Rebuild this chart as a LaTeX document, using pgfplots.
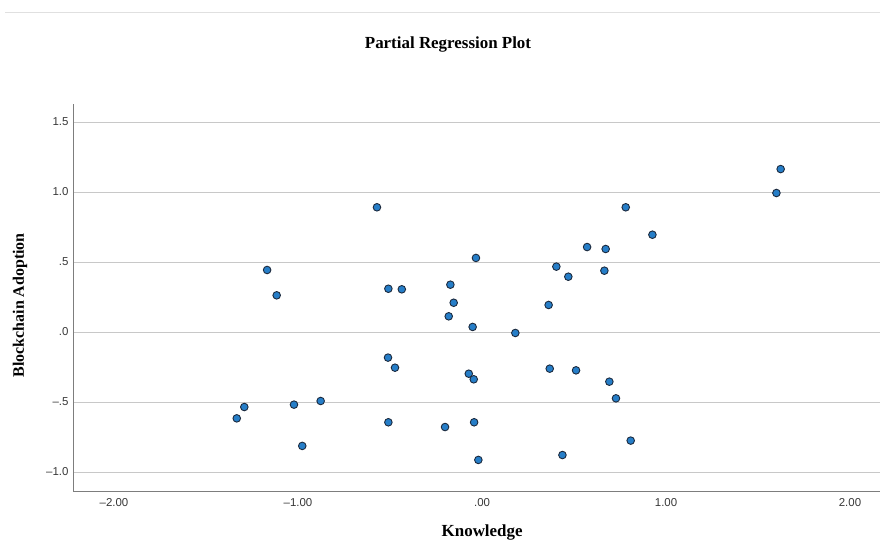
\documentclass[border=0pt]{standalone}
\usepackage{fontspec}
\setmainfont{Liberation Serif}
\newfontfamily\ticksans{Liberation Sans}
\usepackage{pgfplots}
\pgfplotsset{compat=1.18}

\definecolor{dotfill}{RGB}{38,126,200}
\definecolor{dotedge}{RGB}{28,42,62}
\definecolor{gridgray}{RGB}{200,200,200}
\definecolor{axisgray}{RGB}{125,125,125}
\definecolor{ticktext}{RGB}{55,55,55}

\begin{document}
\begin{tikzpicture}[x=1bp,y=1bp]
\useasboundingbox (0,0) rectangle (880,544);
% thin rule along the top of the panel
\draw[color=black!12, line width=0.8bp] (5,532) -- (880,532);
\node[anchor=base, font=\bfseries\fontsize{17}{20}\selectfont] at (448,495.7) {Partial Regression Plot};
\begin{axis}[
  at={(73bp,53bp)}, anchor=south west,
  scale only axis, width=807bp, height=387bp,
  xmin=-2.223, xmax=2.163, ymin=-1.136, ymax=1.629,
  axis x line=bottom, axis y line=left,
  axis line style={-, draw=axisgray, line width=0.9bp},
  major tick length=0pt,
  ymajorgrids, grid style={draw=gridgray, line width=0.9bp},
  xtick={-2,-1,0,1,2},
  xticklabels={–2.00,–1.00,.00,1.00,2.00},
  ytick={-1,-0.5,0,0.5,1,1.5},
  yticklabels={–1.0,–.5,.0,.5,1.0,1.5},
  ticklabel style={font=\ticksans\fontsize{11.5}{13}\selectfont, text=ticktext},
  xticklabel style={yshift=-4bp},
  yticklabel style={xshift=-1bp},
  xlabel={Knowledge},
  ylabel={Blockchain Adoption},
  every axis x label/.style={at={(axis description cs:0.507,0)}, yshift=-41bp, anchor=center, font=\bfseries\fontsize{17}{20}\selectfont},
  every axis y label/.style={at={(axis description cs:0,0.48)}, xshift=-53bp, rotate=90, anchor=center, font=\bfseries\fontsize{16}{19}\selectfont},
]
\addplot[only marks, mark=*, mark size=3.8bp,
  mark options={fill=dotfill, draw=dotedge, line width=0.9bp}]
  table {
x y
-0.571 0.891
-1.168 0.443
-1.116 0.262
-0.509 0.309
-0.436 0.305
-0.172 0.338
-0.154 0.209
-0.181 0.112
-0.051 0.036
-0.033 0.529
-0.511 -0.183
1.623 1.164
1.600 0.993
0.781 0.891
0.926 0.695
0.571 0.607
0.672 0.593
0.404 0.467
0.469 0.395
0.665 0.438
0.362 0.193
0.181 -0.007
-0.473 -0.255
-0.072 -0.298
-0.045 -0.338
-1.333 -0.617
-1.292 -0.536
-1.022 -0.519
-0.877 -0.493
-0.977 -0.814
-0.509 -0.645
-0.201 -0.679
-0.043 -0.645
-0.020 -0.914
0.368 -0.262
0.511 -0.274
0.692 -0.355
0.728 -0.474
0.808 -0.776
0.437 -0.879
};
\end{axis}
\end{tikzpicture}
\end{document}
